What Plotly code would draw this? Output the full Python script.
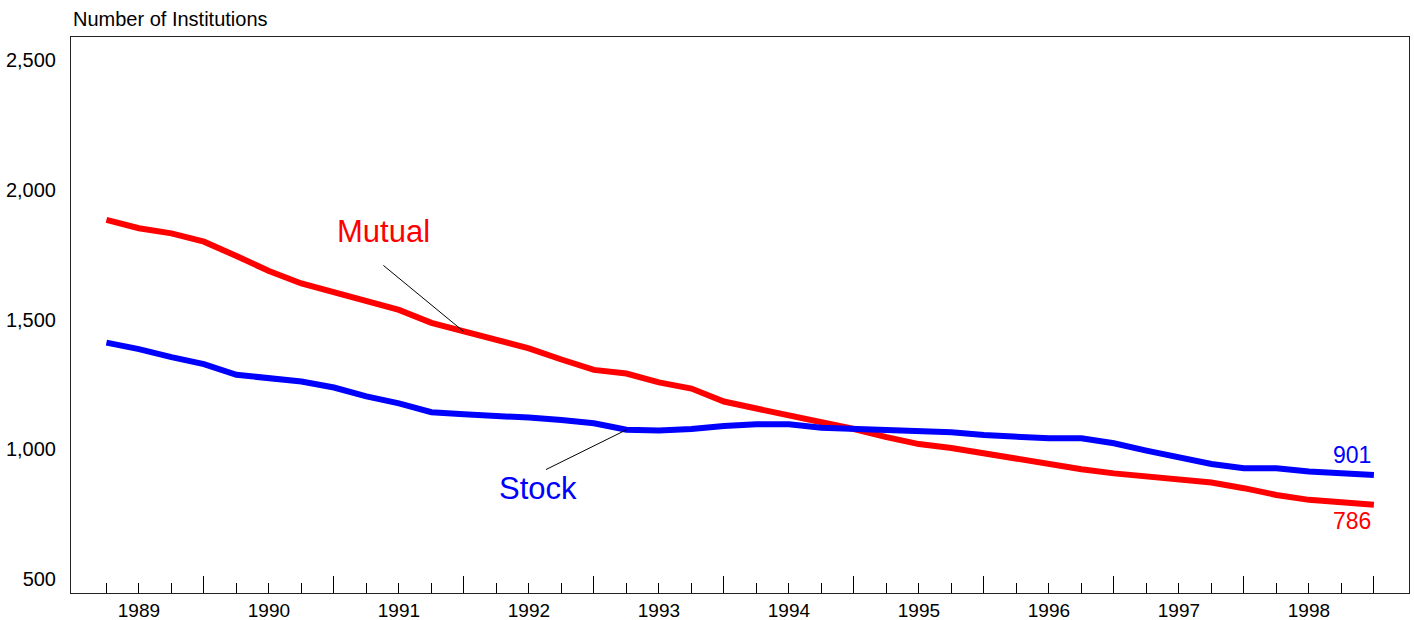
import plotly.graph_objects as go

# quarterly counts, 1989 Q1 .. 1998 Q4
years = [1989, 1990, 1991, 1992, 1993, 1994, 1995, 1996, 1997, 1998]
mutual = [1884, 1852, 1832, 1800, 1745, 1687, 1639, 1604, 1570, 1537,
          1487, 1453, 1421, 1389, 1346, 1306, 1292, 1258, 1234, 1184,
          1157, 1132, 1106, 1078, 1047, 1020, 1005, 985, 965, 940,
          923, 907, 897, 882, 872, 850, 824, 805, 794, 786]
stock = [1411, 1386, 1355, 1328, 1287, 1274, 1261, 1238, 1204, 1177,
         1143, 1135, 1130, 1122, 1113, 1100, 1075, 1072, 1078, 1090,
         1096, 1096, 1083, 1078, 1075, 1067, 1066, 1055, 1049, 1042,
         1042, 1023, 995, 971, 943, 927, 927, 914, 910, 901]
y_ticks = [500, 1000, 1500, 2000, 2500]

q = list(range(len(mutual)))
minor_q = [i for i in q if i % 4 != 3]
major_q = [i for i in q if i % 4 == 3]
minor_text = [str(years[i // 4]) if i % 4 == 1 else '' for i in minor_q]

FONT = 'Liberation Sans, Arial, sans-serif'
xr = [-1.09, 40.08]

fig = go.Figure()
fig.add_trace(go.Scatter(x=q, y=mutual, mode='lines', name='Mutual',
                         line=dict(color='#ff0000', width=6), showlegend=False))
fig.add_trace(go.Scatter(x=q, y=stock, mode='lines', name='Stock',
                         line=dict(color='#0000ff', width=6), showlegend=False))
# carrier for the long year-end ticks
fig.add_trace(go.Scatter(x=q, y=stock, xaxis='x2', mode='lines', opacity=0,
                         hoverinfo='skip', showlegend=False))

ann = [
    dict(text='Number of Institutions', xref='paper', yref='paper', x=0, y=1,
         xanchor='left', yanchor='bottom', yshift=5, showarrow=False,
         font=dict(size=20, color='black')),
    # leader lines
    dict(x=11, y=mutual[11], text=' ', showarrow=True, arrowhead=0, arrowwidth=1,
         arrowcolor='black', ax=-85, ay=-70),
    dict(x=16, y=stock[16], text=' ', showarrow=True, arrowhead=0, arrowwidth=1,
         arrowcolor='black', ax=-85, ay=42),
    dict(x=11, y=mutual[11], text='Mutual', showarrow=False, xshift=-80, yshift=100,
         font=dict(size=31, color='#ff0000')),
    dict(x=16, y=stock[16], text='Stock', showarrow=False, xshift=-88, yshift=-59,
         font=dict(size=31, color='#0000ff')),
    dict(x=q[-1], y=stock[-1], text=str(stock[-1]), showarrow=False, xshift=-22, yshift=20,
         font=dict(size=23, color='#0000ff')),
    dict(x=q[-1], y=mutual[-1], text=str(mutual[-1]), showarrow=False, xshift=-22, yshift=-16,
         font=dict(size=23, color='#ff0000')),
]

fig.update_layout(dict(
    width=1414,
    height=620,
    margin=dict(l=71, r=5, t=37, b=27, autoexpand=False),
    paper_bgcolor='#ffffff',
    plot_bgcolor='#ffffff',
    font=dict(family=FONT, size=20, color='black'),
    xaxis={'range': xr,
           'automargin': False,
           'tickmode': 'array',
           'tickvals': minor_q,
           'ticktext': minor_text,
           'tickfont': {'size': 19},
           'ticks': 'inside',
           'ticklen': 10,
           'tickcolor': 'black',
           'tickwidth': 1,
           'ticklabelstandoff': 0,
           'showgrid': False,
           'zeroline': False,
           'showline': True,
           'linecolor': '#222222',
           'linewidth': 1,
           'mirror': True,
           },
    xaxis2={'range': xr,
            'automargin': False,
            'overlaying': 'x',
            'anchor': 'y',
            'side': 'bottom',
            'tickmode': 'array',
            'tickvals': major_q,
            'showticklabels': False,
            'ticks': 'inside',
            'ticklen': 17,
            'tickcolor': 'black',
            'tickwidth': 1,
            'showgrid': False,
            'zeroline': False,
            'showline': False,
            },
    yaxis={'range': [446, 2589],
           'automargin': False,
           'tickmode': 'array',
           'tickvals': y_ticks,
           'tickformat': ',',
           'ticks': '',
           'ticklabelstandoff': 10,
           'showgrid': False,
           'zeroline': False,
           'showline': True,
           'linecolor': '#222222',
           'linewidth': 1,
           'mirror': True,
           },
    annotations=ann,
))

# page has a default 8px body margin; drop it so the figure sits at 0,0
fig.write_html("out.html", config={'displayModeBar': False},
               post_script="document.body.style.margin='0';document.body.style.overflow='hidden';")
